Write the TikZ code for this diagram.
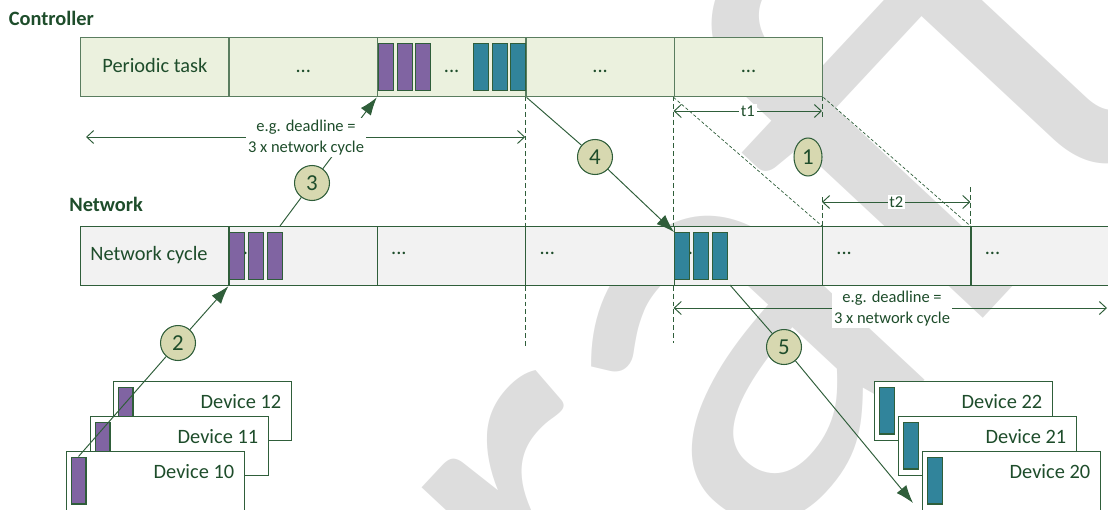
\documentclass[tikz,border=0pt]{standalone}
\usepackage{fontspec}
\setmainfont{Carlito}
\usetikzlibrary{arrows.meta,shapes.geometric}
\definecolor{dkgreen}{HTML}{1E4D2B}
\definecolor{lngreen}{HTML}{2F5E3A}
\definecolor{ctrlline}{HTML}{5A7D5F}
\definecolor{ctrlfill}{HTML}{EBF1DE}
\definecolor{netfill}{HTML}{F2F2F2}
\definecolor{msgpurple}{HTML}{8064A2}
\definecolor{msgteal}{HTML}{31849B}
\definecolor{stepfill}{HTML}{D7D8B0}
\definecolor{wmgray}{HTML}{DDDDDD}
\begin{document}
\begin{tikzpicture}[x=0.02cm,y=-0.02cm,
  every node/.style={text=dkgreen},
  txt/.style={font=\fontsize{11.6}{14}\selectfont,text height=1.5ex,text depth=.25ex},
  cell/.style={txt,draw=lngreen,line width=0.7pt,minimum width=2.968cm,minimum height=1.18cm,inner sep=0pt,anchor=north west},
  msg/.style={draw=lngreen,line width=0.6pt,minimum width=0.3cm,minimum height=0.94cm,inner sep=0pt,anchor=north west},
  device/.style={draw=lngreen,fill=white,line width=0.6pt,minimum width=3.56cm,minimum height=1.18cm,inner sep=0pt,anchor=north west},
  stepnum/.style={circle,draw=lngreen,fill=stepfill,line width=0.6pt,minimum size=0.7cm,inner sep=0pt,font=\fontsize{13}{14}\selectfont},
  flow/.style={draw=lngreen,line width=0.55pt,-{Latex[length=0.36cm,width=0.25cm]}},
  dim/.style={draw=lngreen,line width=0.55pt,{Straight Barb[length=0.14cm,width=0.26cm]}-{Straight Barb[length=0.14cm,width=0.26cm]}},
  guide/.style={draw=lngreen,line width=0.5pt,dash pattern=on 2.8pt off 1.7pt},
  fineguide/.style={draw=lngreen,line width=0.4pt,dash pattern=on 1.8pt off 1.2pt},
  note/.style={fill=white,align=center,font=\fontsize{9.4}{12}\selectfont,inner sep=1pt}]
\useasboundingbox (0,0) rectangle (1108,510);
\begin{scope}
  \clip (0,0) rectangle (1108,510);
  \node[rotate=47,anchor=base west,inner sep=0pt,text=wmgray,font=\fontsize{351}{351}\selectfont] (wm) at (352,995) {Draft};
\end{scope}

\draw[guide] (525.2,96) -- (525.2,346);
\draw[guide] (673.6,96) -- (673.6,343);
\draw[guide] (822,96) -- (822,117);
\draw[guide] (822,197) -- (822,226);
\draw[guide] (970.4,187) -- (970.4,226);

\foreach \i in {1,...,5}
  \node[cell,draw=ctrlline,line width=0.8pt,fill=ctrlfill] (c\i) at ({80+(\i-1)*148.4},37) {\ifnum\i=1 Periodic task\else ...\fi};
\foreach \i in {1,...,7}
  \node[cell,fill=netfill] (n\i) at ({80+(\i-1)*148.4},226) {};
\foreach \i in {2,...,7}
  \node[anchor=base west,inner sep=0pt,font=\fontsize{11.6}{14}\selectfont] (nd\i) at ({80+(\i-1)*148.4+14},254) {...};
\node[txt,inner sep=0pt] (ncl) at (149,255.5) {Network cycle};

\node[anchor=base west,inner sep=0pt,font=\fontsize{11.6}{14}\selectfont\bfseries] (ctrl) at (8.5,25.7) {Controller};
\node[anchor=base west,inner sep=0pt,font=\fontsize{11.6}{14}\selectfont\bfseries] (net) at (69,211.7) {Network};

\foreach \k in {0,1,2} {
  \node[msg,fill=msgpurple] (cp\k) at ({378+\k*18.7},43) {};
  \node[msg,fill=msgteal] (ct\k) at ({473+\k*18.7},43) {};
  \node[msg,fill=msgpurple] (np\k) at ({229+\k*19},232) {};
  \node[msg,fill=msgteal] (nt\k) at ({674+\k*19},232) {};
}

\foreach \i/\dx/\dy/\col in {12/113/381/msgpurple,11/90/416/msgpurple,10/66/451/msgpurple,22/874/381/msgteal,21/898/416/msgteal,20/922/451/msgteal} {
  \node[device] (d\i) at (\dx,\dy) {};
  \node[msg,fill=\col] (b\i) at ({\dx+4.5},{\dy+5.5}) {};
  \node[anchor=base east,inner sep=0pt,font=\fontsize{11.6}{14}\selectfont] (t\i) at ({\dx+168.5},{\dy+27.5}) {Device \i};
}

\node[stepnum,ellipse,minimum width=0.56cm,minimum height=0.76cm] (s1) at (808,157) {1};
\node[stepnum] (s2) at (178,343) {2};
\node[stepnum] (s3) at (312,183) {3};
\node[stepnum] (s4) at (595,157) {4};
\node[stepnum] (s5) at (784,347) {5};

\coordinate (from3) at (280,226);
\coordinate (from5) at (730,285);
\coordinate (to5) at (913,503);
\draw[flow] (b10.north) -- (s2) -- (n2.south west);
\draw[flow] (from3) -- (s3) -- (c3.south west);
\draw[flow] (c3.south east) -- (s4) -- (nt0.north west);
\draw[flow] (from5) -- (s5) -- (to5);

\draw[fineguide] (c5.south west) -- (n6.north west);
\draw[fineguide] (c5.south east) -- (n7.north west);

\coordinate (dla) at (86,137);
\coordinate (dlb) at (525.2,137);
\coordinate (dnb) at (673.6,308);
\coordinate (dne) at (1107,308);
\draw[dim] (dla) -- (dlb);
\draw[dim] (dnb) -- (dne);
\node[note] (dl1) at (306,137.5) {e.g. deadline =\\3 x network cycle};
\node[note] (dl2) at (892,308.5) {e.g. deadline =\\3 x network cycle};
\draw[dim] (673.6,111) -- (822,111) node[midway,note] (t1) {t1};
\draw[dim] (822,202) -- (970.4,202) node[midway,note] (t2) {t2};
\end{tikzpicture}
\end{document}
